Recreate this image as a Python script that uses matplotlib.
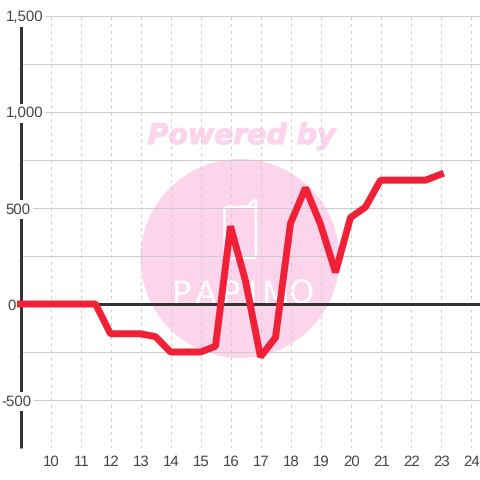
import matplotlib
matplotlib.use("Agg")
import matplotlib.pyplot as plt
import matplotlib.patheffects as pe
from matplotlib.patches import Circle, FancyBboxPatch

hours = [9, 9.5, 10, 10.5, 11, 11.5, 12, 12.5, 13, 13.5, 14, 14.5, 15, 15.5, 16, 16.5, 17, 17.5,
         18, 18.5, 19, 19.5, 20, 20.5, 21, 21.5, 22, 22.5, 23]
values = [0, 0, 0, 0, 0, 0, -155, -155, -155, -170, -250, -250, -250, -220, 405, 120, -275, -175,
          420, 605, 415, 165, 450, 505, 645, 645, 645, 645, 675]
x_ticks = list(range(10, 25))
y_ticks = [-500, 0, 500, 1000, 1500]
y_minor = [-250, 250, 750, 1250]
y_labels = {1500: "1,500", 1000: "1,000", 500: "500", 0: "0", -500: "-500"}
logo_letters = ["P", "A", "P", "I", "M", "O"]
logo_centers = [182, 206, 231, 253, 276, 301]

plt.rcParams["font.family"] = ["Liberation Sans", "DejaVu Sans"]
plt.rcParams["text.hinting"] = "no_hinting"
plt.rcParams["text.hinting_factor"] = 1
fig = plt.figure(figsize=(4.8, 4.8), dpi=100, facecolor="white")
ax = fig.add_axes([20.5 / 480, 32 / 480, (480 - 20.5) / 480, 432 / 480])
ax.set_xlim(9, 9 + (480 - 20.5) / 30)
ax.set_ylim(-750, 1500)
ax.set_facecolor("none")
for s in ax.spines.values():
    s.set_visible(False)

pink = "#fcd5ed"
bg = fig.add_axes([0, 0, 1, 1], zorder=-1)
bg.set_xlim(0, 480); bg.set_ylim(480, 0); bg.axis("off")
bg.add_patch(Circle((240, 258.5), 99.5, fc=pink, ec="none"))
bg.text(240.5, 144, "Powered by", fontsize=20.4, family="DejaVu Sans", weight="bold", style="italic",
        color=pink, ha="center", va="baseline",
        path_effects=[pe.withStroke(linewidth=0.8, foreground=pink)])
bg.add_patch(FancyBboxPatch((224.5, 207), 31.5, 51, boxstyle="round,pad=0,rounding_size=3",
                            fc="none", ec="white", lw=1.8))
bg.plot([247, 254, 256, 256], [207, 200.5, 200.5, 212], color="white", lw=1.8, solid_capstyle="round")
for ch, cx in zip(logo_letters, logo_centers):
    bg.text(cx, 304, ch, fontsize=23, family="Liberation Sans Narrow", color="white", ha="center",
            va="baseline")

for t in y_ticks + y_minor + [-750]:
    ax.axhline(t, color="#cccccc", lw=0.72, zorder=1)
for t in x_ticks:
    ax.axvline(t, color="#cccccc", lw=0.72, ls=(0, (2.8, 4)), zorder=1)

ax.axvline(9, color="#333333", lw=2.16, ymin=0, ymax=(448 - 24) / 432, zorder=2, clip_on=False,
           solid_capstyle="butt")
ax.axhline(0, color="#333333", lw=2.16, zorder=3)
ax.plot(hours, values, color="#f02036", lw=5.0, solid_joinstyle="bevel", solid_capstyle="projecting",
        zorder=4, clip_on=False)

pos = {1500: 43, 1000: 43, 500: 30, 0: 16, -500: 31}
for v in y_ticks:
    ax.annotate(y_labels[v], xy=(0, v), xycoords=("axes fraction", "data"),
                xytext=(pos[v] - 20.5, 0), textcoords="offset pixels", ha="right", va="center_baseline",
                fontsize=10.6, color="#444444", zorder=5 if v != 0 else 3.5,
                bbox=dict(fc="white", ec="none", pad=2))
for t in x_ticks:
    ax.annotate(str(t), xy=(t, 0), xycoords=("data", "axes fraction"),
                xytext=(1, -7), textcoords="offset pixels", ha="center", va="top",
                fontsize=10.6, color="#444444", zorder=5)
ax.set_xticks([]); ax.set_yticks([])
fig.savefig("out.png", dpi=100)
